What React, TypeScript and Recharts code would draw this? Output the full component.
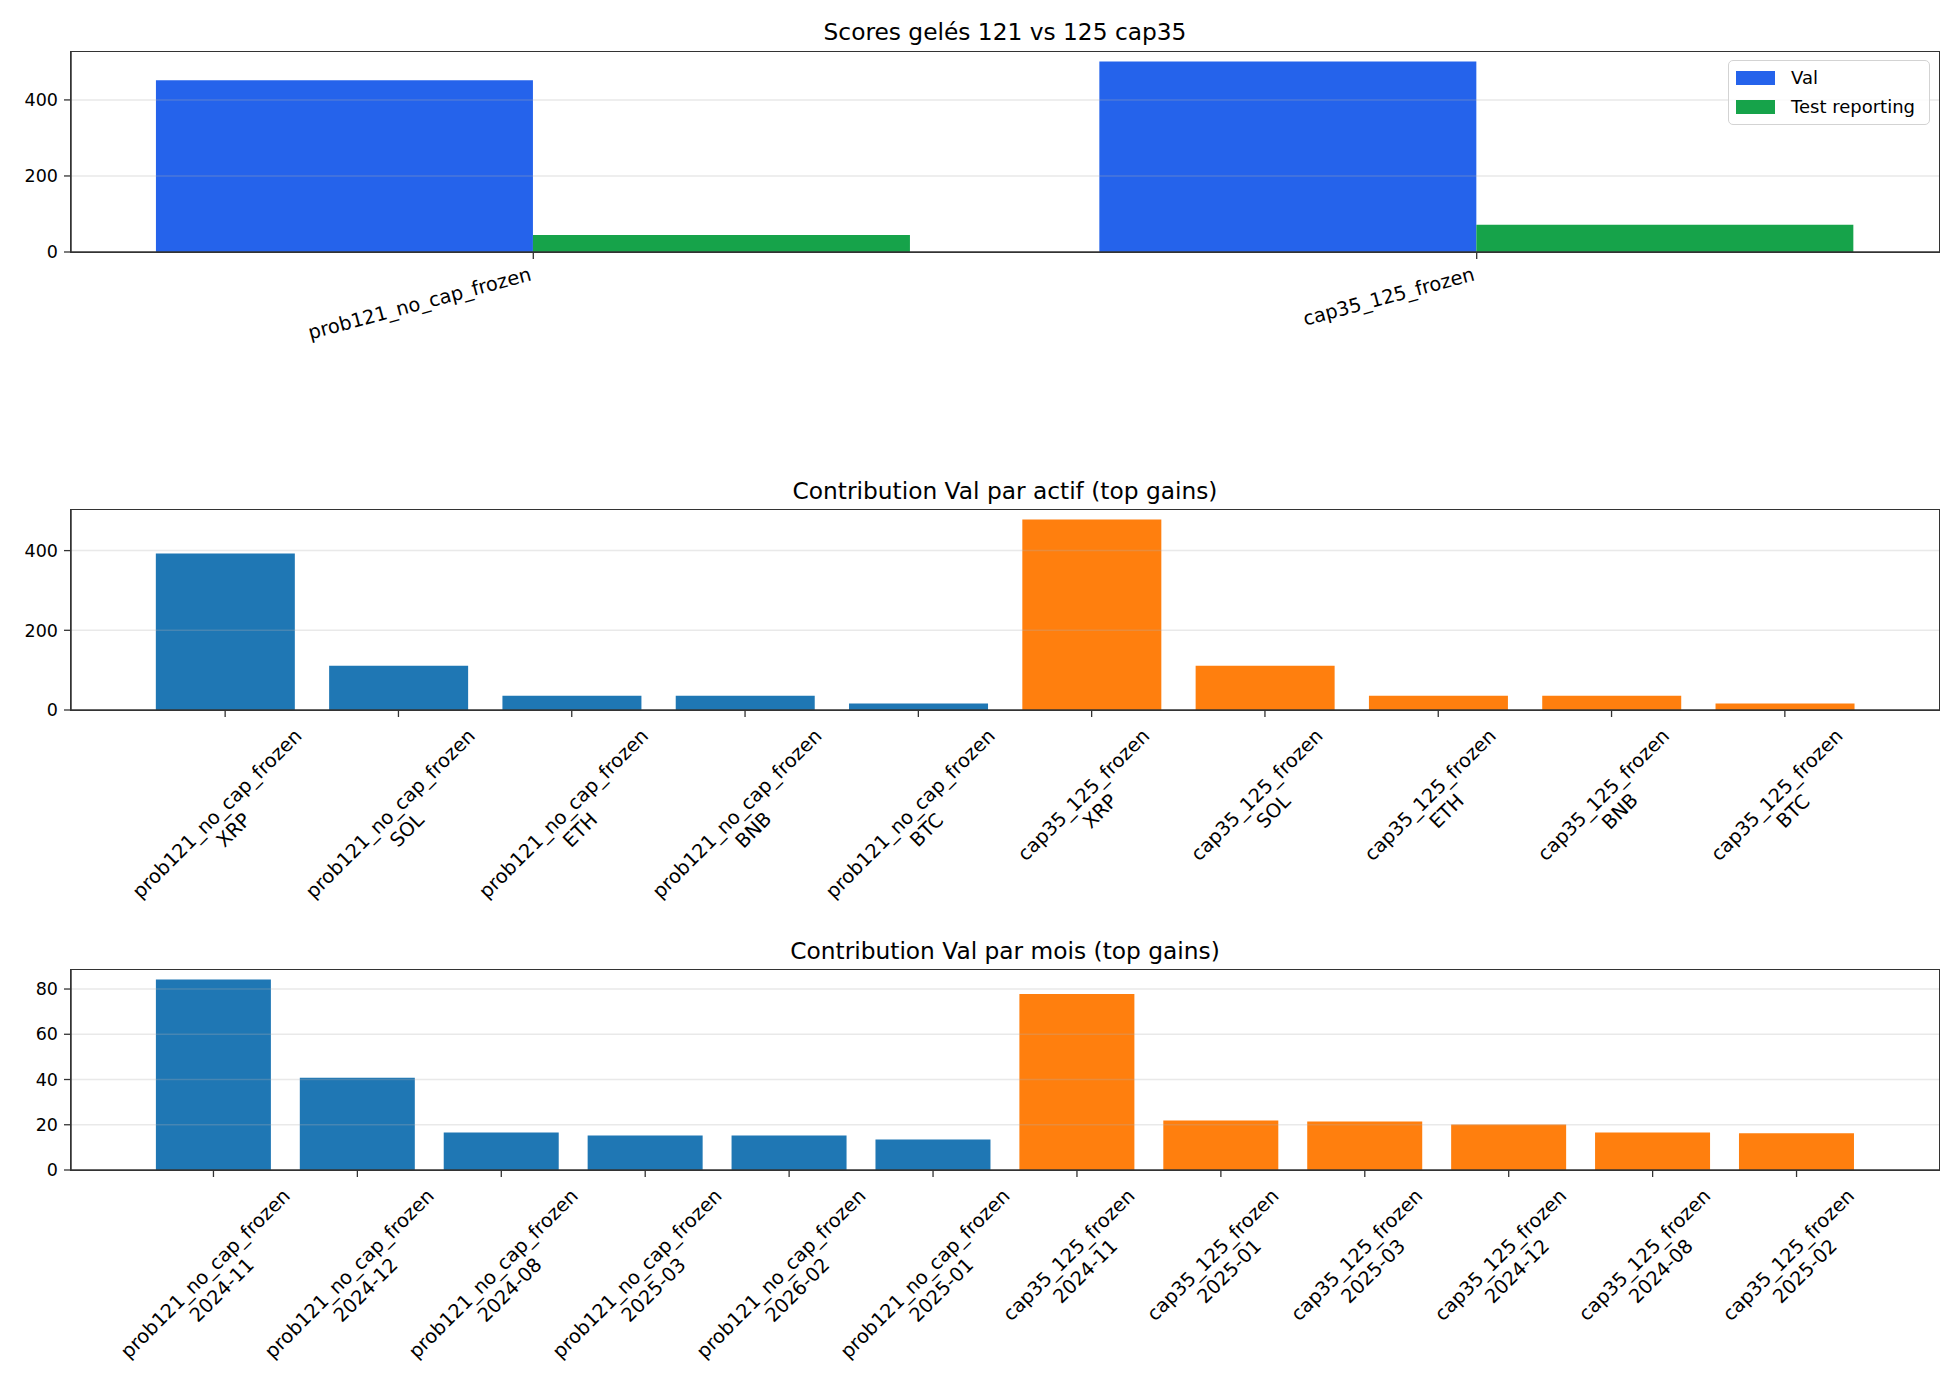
import React from 'react';
import { BarChart, Bar, XAxis, YAxis, Cell, ReferenceLine } from 'recharts';

// Scores gelés
const scoreNames = ['prob121_no_cap_frozen', 'cap35_125_frozen'];
const valScores = [452, 501];
const testScores = [45, 72];

// Contribution par actif
const assets = ['XRP', 'SOL', 'ETH', 'BNB', 'BTC'];
const prob121Assets = [393, 111, 36, 36, 16];
const cap35Assets = [478, 111, 36, 36, 16];

// Contribution par mois
const prob121Months = ['2024-11', '2024-12', '2024-08', '2025-03', '2026-02', '2025-01'];
const prob121MonthVals = [84.2, 40.8, 16.6, 15.3, 15.3, 13.5];
const cap35Months = ['2024-11', '2025-01', '2025-03', '2024-12', '2024-08', '2025-02'];
const cap35MonthVals = [77.8, 21.9, 21.4, 20.1, 16.6, 16.2];

const RUN_A = 'prob121_no_cap_frozen';
const RUN_B = 'cap35_125_frozen';

const FONT = '"DejaVu Sans", sans-serif';
const XTICK_FS = 19.4;
const YTICK_FS = 17.5;
const TITLE_FS = 23.3;
const LEGEND_FS = 18;
const SPINE = '#333333';

// plot area (matplotlib axes box)
const AX_LEFT = 71;
const AX_W = 1868;
const AX_H = 200;
const AX_TOP = 52;

const scoreData = scoreNames.map((name, i) => ({ name, val: valScores[i], test: testScores[i] }));
const assetData = [
  ...assets.map((a, i) => ({ name: `${RUN_A}\n${a}`, value: prob121Assets[i], run: RUN_A })),
  ...assets.map((a, i) => ({ name: `${RUN_B}\n${a}`, value: cap35Assets[i], run: RUN_B })),
];
const monthData = [
  ...prob121Months.map((m, i) => ({ name: `${RUN_A}\n${m}`, value: prob121MonthVals[i], run: RUN_A })),
  ...cap35Months.map((m, i) => ({ name: `${RUN_B}\n${m}`, value: cap35MonthVals[i], run: RUN_B })),
];

const runColor = (run: string) => (run === RUN_A ? '#1f77b4' : '#ff7f0e');

let ctx: CanvasRenderingContext2D | null = null;
const textWidth = (s: string, fs: number) => {
  if (!ctx && typeof document !== 'undefined') ctx = document.createElement('canvas').getContext('2d');
  if (ctx) {
    ctx.font = `${fs}px "DejaVu Sans"`;
    return ctx.measureText(s).width;
  }
  return s.length * fs * 0.57;
};

const SlantTick = ({ x, y, payload }: any) => (
  <g transform={`translate(${x - 1},${y + 14})`}>
    <text transform="rotate(-15)" textAnchor="end" fontSize={XTICK_FS} fontFamily={FONT} fill="#000">
      {payload.value}
    </text>
  </g>
);

const DiagTick = ({ x, y, payload }: any) => {
  const lines = String(payload.value).split('\n');
  const lh = XTICK_FS * 1.2;
  const L = Math.max(...lines.map((l) => textWidth(l, XTICK_FS)));
  const H = lines.length * lh;
  const half = ((L + H) * Math.SQRT1_2) / 2;
  return (
    <g transform={`translate(${x},${y + half})`}>
      <text transform="rotate(-45)" textAnchor="middle" fontSize={XTICK_FS} fontFamily={FONT} fill="#000">
        {lines.map((l, i) => (
          <tspan key={i} x={0} y={(i - (lines.length - 1) / 2) * lh} dy="0.35em">
            {l}
          </tspan>
        ))}
      </text>
    </g>
  );
};

const yTick = { fontSize: YTICK_FS, fontFamily: FONT, fill: '#000' };
const axisLine = { stroke: SPINE, strokeWidth: 1.5 };
const tickLine = { stroke: SPINE, strokeWidth: 1.3 };

const gridLines = (vals: number[]) =>
  vals.map((v) => <ReferenceLine key={v} y={v} stroke="#b0b0b0" strokeOpacity={0.28} strokeWidth={1.5} />);

const Frame = ({ top }: { top: number }) => (
  <div
    style={{
      position: 'absolute',
      left: AX_LEFT - 0.75,
      top: top - 0.75,
      width: AX_W + 1.5,
      height: AX_H + 1.5,
      boxSizing: 'border-box',
      border: `1.5px solid ${SPINE}`,
      pointerEvents: 'none',
    }}
  />
);

const Title = ({ top, children }: { top: number; children: React.ReactNode }) => (
  <div
    style={{
      position: 'absolute',
      left: AX_LEFT,
      width: AX_W,
      top,
      textAlign: 'center',
      fontFamily: FONT,
      fontSize: TITLE_FS,
      lineHeight: 1,
      color: '#000',
      whiteSpace: 'nowrap',
    }}
  >
    {children}
  </div>
);

const legendItems = [
  { label: 'Val', color: '#2563eb' },
  { label: 'Test reporting', color: '#16a34a' },
];

const LegendBox = () => (
  <div
    style={{
      position: 'absolute',
      left: 1728,
      top: 60,
      width: 202,
      height: 65,
      boxSizing: 'border-box',
      border: '1.5px solid #d3d3d3',
      borderRadius: 5,
      background: 'rgba(255,255,255,0.8)',
      fontFamily: FONT,
      fontSize: LEGEND_FS,
      color: '#000',
      padding: '2px 0 0 7px',
    }}
  >
    {legendItems.map((it) => (
      <div key={it.label} style={{ display: 'flex', alignItems: 'center', height: 29 }}>
        <div style={{ width: 39, height: 14, background: it.color, marginRight: 16 }} />
        <span style={{ lineHeight: 1 }}>{it.label}</span>
      </div>
    ))}
  </div>
);

const margin = { top: AX_TOP, right: 1960 - AX_LEFT - AX_W, left: 0, bottom: 0 };

const YAx = ({ ticks }: { ticks: number[] }) => (
  <YAxis
    width={AX_LEFT}
    domain={[0, (m: number) => m * 1.05]}
    ticks={ticks}
    tick={yTick}
    tickSize={7}
    tickMargin={6}
    axisLine={axisLine}
    tickLine={tickLine}
  />
);

export default function App() {
  const top2 = 458;
  const top3 = 918;
  return (
    <div style={{ position: 'absolute', left: 0, top: 0, width: 1960, height: 1400, background: '#fff', fontFamily: FONT }}>
      <Title top={20.3}>Scores gelés 121 vs 125 cap35</Title>
      <div style={{ position: 'absolute', left: 0, top: 0 }}>
        <BarChart width={1960} height={460} data={scoreData} margin={margin} barCategoryGap="10%" barGap={0}>
          <XAxis
            dataKey="name"
            interval={0}
            padding={{ left: -9.4, right: -9.4 }}
            height={460 - AX_TOP - AX_H}
            tick={<SlantTick />}
            tickSize={7}
            tickMargin={7}
            axisLine={axisLine}
            tickLine={tickLine}
          />
          {YAx({ ticks: [0, 200, 400] })}
          <Bar dataKey="val" name="Val" fill="#2563eb" isAnimationActive={false} />
          <Bar dataKey="test" name="Test reporting" fill="#16a34a" isAnimationActive={false} />
          {gridLines([200, 400])}
        </BarChart>
      </div>
      <Frame top={AX_TOP} />
      <LegendBox />

      <Title top={478.6}>Contribution Val par actif (top gains)</Title>
      <div style={{ position: 'absolute', left: 0, top: top2 }}>
        <BarChart width={1960} height={460} data={assetData} margin={margin} barCategoryGap="10%">
          <XAxis
            dataKey="name"
            interval={0}
            padding={{ left: 67.5, right: 67.5 }}
            height={460 - AX_TOP - AX_H}
            tick={<DiagTick />}
            tickSize={7}
            tickMargin={7}
            axisLine={axisLine}
            tickLine={tickLine}
          />
          {YAx({ ticks: [0, 200, 400] })}
          <Bar dataKey="value" isAnimationActive={false}>
            {assetData.map((d, i) => (
              <Cell key={i} fill={runColor(d.run)} />
            ))}
          </Bar>
          {gridLines([200, 400])}
        </BarChart>
      </div>
      <Frame top={top2 + AX_TOP} />

      <Title top={938.6}>Contribution Val par mois (top gains)</Title>
      <div style={{ position: 'absolute', left: 0, top: top3 }}>
        <BarChart width={1960} height={482} data={monthData} margin={margin} barCategoryGap="10%">
          <XAxis
            dataKey="name"
            interval={0}
            padding={{ left: 70.5, right: 70.5 }}
            height={482 - AX_TOP - AX_H}
            tick={<DiagTick />}
            tickSize={7}
            tickMargin={7}
            axisLine={axisLine}
            tickLine={tickLine}
          />
          {YAx({ ticks: [0, 20, 40, 60, 80] })}
          <Bar dataKey="value" isAnimationActive={false}>
            {monthData.map((d, i) => (
              <Cell key={i} fill={runColor(d.run)} />
            ))}
          </Bar>
          {gridLines([20, 40, 60, 80])}
        </BarChart>
      </div>
      <Frame top={top3 + AX_TOP} />
    </div>
  );
}
